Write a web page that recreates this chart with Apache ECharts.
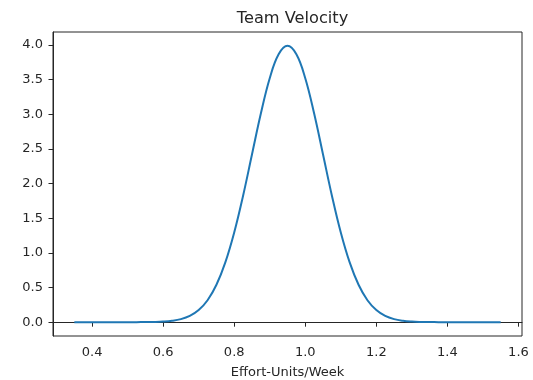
<!DOCTYPE html>
<html>
<head>
<meta charset="utf-8">
<script src="https://cdn.jsdelivr.net/npm/echarts@6/dist/echarts.min.js"></script>
<style>html,body{margin:0;padding:0;background:#fff;}#c{width:533px;height:380px;}</style>
</head>
<body>
<div id="c"></div>
<script>
var title = 'Team Velocity';
var xLabel = 'Effort-Units/Week';
var xValues = [0.350,0.375,0.400,0.425,0.450,0.475,0.500,0.525,0.550,0.575,0.600,0.625,0.650,0.675,0.700,0.725,0.750,0.775,0.800,0.825,0.850,0.875,0.900,0.925,0.950,0.975,1.000,1.025,1.050,1.075,1.100,1.125,1.150,1.175,1.200,1.225,1.250,1.275,1.300,1.325,1.350,1.375,1.400,1.425,1.450,1.475,1.500,1.525,1.550];
var yValues = [0.0000,0.0000,0.0000,0.0000,0.0000,0.0001,0.0002,0.0005,0.0013,0.0035,0.0087,0.0203,0.0443,0.091,0.175,0.317,0.540,0.863,1.295,1.826,2.420,3.011,3.521,3.866,3.989,3.866,3.521,3.011,2.420,1.826,1.295,0.863,0.540,0.317,0.175,0.091,0.0443,0.0203,0.0087,0.0035,0.0013,0.0005,0.0002,0.0001,0.0000,0.0000,0.0000,0.0000,0.0000];
var xTicks = [0.4,0.6,0.8,1.0,1.2,1.4,1.6];
var yTicks = [0.0,0.5,1.0,1.5,2.0,2.5,3.0,3.5,4.0];

var data = xValues.map(function(x,i){return [x,yValues[i]];});
var chart = echarts.init(document.getElementById('c'), null, {renderer:'canvas'});
var font = 'DejaVu Sans';
var ink = '#262626';
chart.setOption({
  animation:false,
  backgroundColor:'#fff',
  title:{text:title,left:287.5,top:6,textAlign:'center',textStyle:{fontFamily:font,fontSize:16.2,fontWeight:'normal',color:ink}},
  grid:{left:53,top:32,right:11,bottom:44,show:true,borderColor:ink,borderWidth:1,backgroundColor:'transparent',containLabel:false,outerBoundsMode:'none'},
  xAxis:{type:'value',min:0.29,max:1.61,
    name:xLabel,nameLocation:'middle',nameGap:30,nameTextStyle:{fontFamily:font,fontSize:13,color:ink},
    axisLine:{show:true,lineStyle:{color:ink,width:1}},
    axisTick:{show:true,length:4.5,lineStyle:{color:ink,width:1},customValues:xTicks},
    axisLabel:{fontFamily:font,fontSize:13,color:ink,margin:10.5,customValues:xTicks,formatter:function(v){return v.toFixed(1);}},
    splitLine:{show:false}},
  yAxis:{type:'value',min:-0.1995,max:4.188,
    axisLine:{show:true,lineStyle:{color:ink,width:1}},
    axisTick:{show:true,length:4.5,lineStyle:{color:ink,width:1},customValues:yTicks},
    axisLabel:{fontFamily:font,fontSize:13,color:ink,margin:10,customValues:yTicks,formatter:function(v){return v.toFixed(1);}},
    splitLine:{show:false}},
  series:[{type:'line',data:data,showSymbol:false,smooth:0.4,lineStyle:{color:'#1f77b4',width:2},itemStyle:{color:'#1f77b4'}}]
});
</script>
</body>
</html>
